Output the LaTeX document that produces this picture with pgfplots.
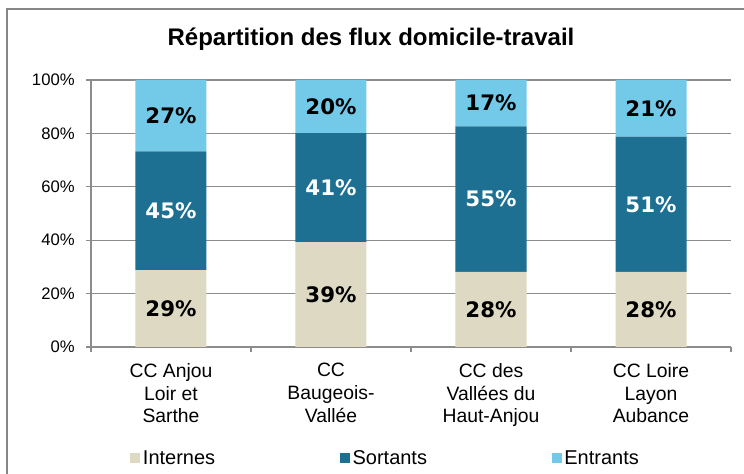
\documentclass[border=0pt]{standalone}
\usepackage{pgfplots}
\pgfplotsset{compat=1.18}
\usepackage{pgfplotstable}
\usepackage{fontspec}
\setmainfont{Liberation Sans}
\newfontfamily\lblfont{DejaVu Sans}

\definecolor{cInt}{HTML}{DDD9C3}
\definecolor{cSor}{HTML}{1D7092}
\definecolor{cEnt}{HTML}{73C9E8}
\definecolor{cGrid}{HTML}{8C8C8C}
\definecolor{cFrame}{HTML}{868686}

% parts of each bar (%)
\pgfplotstableread{
x int sor ent
1 28.8 44.5 26.7
2 39.3 40.8 19.9
3 28.1 54.5 17.4
4 28.1 50.7 21.2
}\flux

% label positions (middle of each segment) and printed values
\pgfplotstableread{
x yint lint ysor lsor yent lent
1 14.40 29 51.05 45 86.65 27
2 19.65 39 59.70 41 90.05 20
3 14.05 28 55.35 55 91.30 17
4 14.05 28 53.45 51 89.40 21
}\labels

\pgfplotsset{
  base/.style={
    at={(68.25pt,95.25pt)}, anchor=south west,
    scale only axis, width=480pt, height=200.25pt,
    xmin=0.5, xmax=4.5, ymin=0, ymax=100,
  },
  lbl/.style={
    draw=none, mark=none,
    nodes near coords={\pgfplotspointmeta\%},
    point meta=explicit symbolic,
    nodes near coords align=center,
    every node near coord/.append style={font=\lblfont\bfseries\fontsize{16}{19}\selectfont, text=#1},
  },
}

\begin{document}
\begin{tikzpicture}
\useasboundingbox (0,0) rectangle (558pt,355.5pt);
\draw[cFrame, line width=1.5pt] (5.25pt,-2pt) -- (5.25pt,348.75pt) -- (560pt,348.75pt);

\node[font=\bfseries\fontsize{18}{22}\selectfont, anchor=base] at (278.25pt,321pt)
  {Répartition des flux domicile-travail};

\begin{axis}[
  base,
  ybar stacked, bar width=53.25pt,
  axis x line*=bottom, axis y line*=left,
  axis line style={cGrid, line width=0.8pt},
  xtick={0.5,1.5,2.5,3.5,4.5},
  x tick label as interval,
  xticklabels={{CC Anjou\\Loir et\\Sarthe},{CC\\Baugeois-\\Vallée},{CC des\\Vallées du\\Haut-Anjou},{CC Loire\\Layon\\Aubance}},
  xticklabel style={align=center, font=\fontsize{14.5}{17}\selectfont, yshift=-5pt},
  ytick={0,20,40,60,80,100},
  yticklabel={\pgfmathprintnumber{\tick}\%},
  yticklabel style={font=\fontsize{12.5}{15}\selectfont, xshift=-5pt},
  /pgf/number format/assume math mode=true,
  tick align=outside,
  major tick length=3.75pt,
  tick style={cGrid, line width=0.8pt},
  ymajorgrids,
  grid style={cGrid, line width=0.8pt},
  legend columns=3,
  legend cell align=left,
  legend style={draw=none, inner sep=0pt, at={(0.061,-0.416)}, anchor=west,
    font=\fontsize{15}{18}\selectfont,
    nodes={text height=11pt, text depth=1pt},
    /tikz/every even column/.append style={column sep=91.5pt}},
  legend image code/.code={\draw[#1, draw=none] (0pt,-3.75pt) rectangle (7.5pt,3.75pt);},
]
\addplot[fill=cInt, draw=none] table[x=x, y=int] {\flux};
\addplot[fill=cSor, draw=none] table[x=x, y=sor] {\flux};
\addplot[fill=cEnt, draw=none] table[x=x, y=ent] {\flux};
\legend{Internes, Sortants, Entrants}
\end{axis}

\begin{axis}[base, hide axis]
\addplot[lbl=black] table[x=x, y=yint, meta=lint] {\labels};
\addplot[lbl=white] table[x=x, y=ysor, meta=lsor] {\labels};
\addplot[lbl=black] table[x=x, y=yent, meta=lent] {\labels};
\end{axis}
\end{tikzpicture}
\end{document}
